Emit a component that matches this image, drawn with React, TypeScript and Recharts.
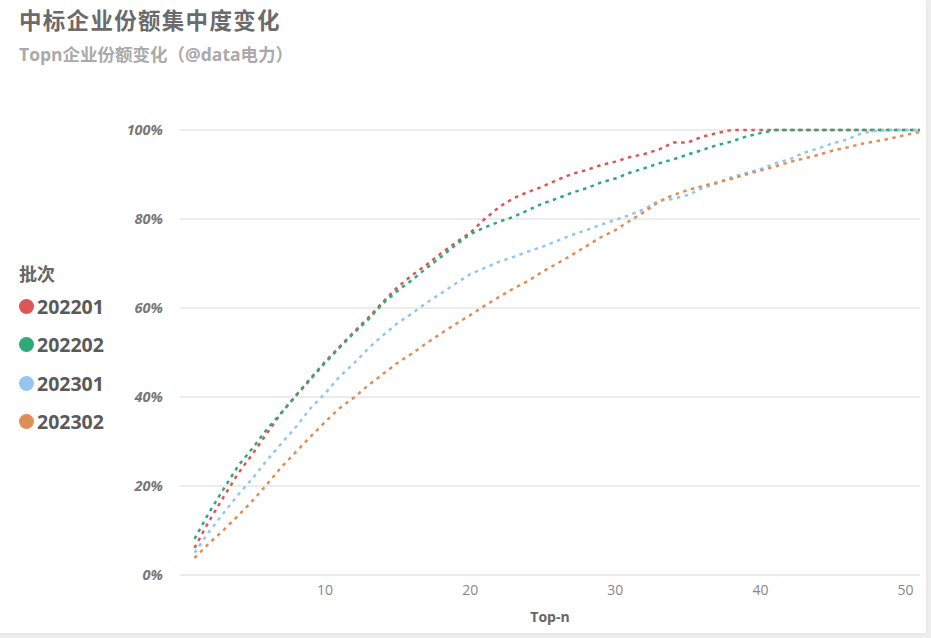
import { LineChart, Line, XAxis, YAxis, CartesianGrid, Legend } from "recharts";

const topN = [
	1, 2, 3, 4, 5, 6, 7, 8, 9, 10, 11, 12, 13, 14, 15, 16, 17, 18, 19, 20, 21, 22, 23, 24, 25, 26,
	27, 28, 29, 30, 31, 32, 33, 34, 35, 36, 37, 38, 39, 40, 41, 42, 43, 44, 45, 46, 47, 48, 49, 50, 51
];

const s202201 = [
	6.1, 12.1, 17.5, 22.8, 27.2, 31.9, 36.5, 40.4, 44.2, 47.9, 51.3, 54.7, 57.9, 61.4, 64.7, 67.4, 69.7,
	72.3, 74.7, 76.9, 80.0, 82.7, 84.7, 86.1, 87.3, 88.8, 90.1, 91.0, 92.1, 92.9, 93.9, 94.6, 95.6, 97.2,
	97.2, 98.5, 99.3, 100, 100, 100, 100, 100, 100, 100, 100, 100, 100, 100, 100, 100, 100
];
const s202202 = [
	8.1, 14.0, 19.3, 24.5, 28.5, 32.8, 36.5, 40.3, 44.0, 47.7, 51.1, 54.4, 57.5, 61.1, 63.9, 66.3, 69.0,
	71.5, 74.2, 76.6, 78.1, 79.4, 80.5, 82.0, 83.5, 84.6, 85.9, 86.9, 88.2, 89.1, 90.4, 91.4, 92.5, 93.4,
	94.5, 95.5, 96.6, 97.4, 98.5, 99.3, 100, 100, 100, 100, 100, 100, 100, 100, 100, 100, 100
];
const s202301 = [
	5.0, 9.7, 13.9, 18.0, 21.7, 25.8, 29.6, 33.3, 37.5, 40.8, 44.6, 47.6, 51.0, 53.9, 56.6, 58.8, 61.2,
	63.3, 65.5, 67.6, 69.0, 70.4, 71.5, 72.7, 73.8, 75.1, 76.4, 77.5, 78.7, 79.8, 80.9, 82.2, 84.1, 84.5,
	85.4, 86.9, 88.0, 89.4, 90.3, 91.2, 92.5, 93.4, 94.9, 95.9, 97.0, 97.9, 99.3, 99.8, 100, 100, 100
];
const s202302 = [
	3.8, 7.1, 10.1, 13.3, 16.7, 20.4, 24.3, 27.7, 31.1, 34.4, 37.5, 39.9, 42.7, 45.2, 47.7, 49.8, 52.1,
	54.3, 56.4, 58.4, 60.5, 62.5, 64.4, 66.1, 68.2, 70.0, 71.9, 73.9, 75.9, 77.5, 79.6, 81.6, 83.9, 85.4,
	86.5, 87.4, 88.2, 89.0, 90.0, 90.9, 91.8, 92.8, 93.6, 94.4, 95.4, 96.1, 96.9, 97.5, 98.1, 98.9, 99.6
];

const batches = ["202201", "202202", "202301", "202302"];
const colors = ["#dd5555", "#2eaa7a", "#94c7ef", "#e08e58"];
const xTicks = [10, 20, 30, 40, 50];
const yTicks = [0, 20, 40, 60, 80, 100];

const data = topN.map((n, i) => ({
	n,
	"202201": s202201[i],
	"202202": s202202[i],
	"202301": s202301[i],
	"202302": s202302[i]
}));

const FONT = '"Open Sans", "Noto Sans CJK SC", sans-serif';

function LegendBox() {
	return (
		<div style={{ fontFamily: FONT, fontWeight: 700, color: "#666" }}>
			<div style={{ fontSize: 18, lineHeight: "22px", marginBottom: 2 }}>批次</div>
			{batches.map((b, i) => (
				<div key={b} style={{ display: "flex", alignItems: "center", height: 38.5 }}>
					<span
						style={{
							width: 15,
							height: 15,
							borderRadius: "50%",
							background: colors[i],
							display: "inline-block",
							marginRight: 3
						}}
					/>
					<span style={{ fontSize: 19.5, color: "#5a5a5a" }}>{b}</span>
				</div>
			))}
		</div>
	);
}

export default function App() {
	return (
		<div style={{ position: "fixed", left: 0, top: 0, width: 931, height: 638, background: "#eeeeee" }}>
			<div
				style={{
					position: "absolute",
					left: 0,
					top: 0,
					width: 926,
					height: 633,
					background: "#fff",
					boxShadow: "0 0 3px rgba(0,0,0,0.08)",
					fontFamily: FONT
				}}
			>
				<div
					style={{
						position: "absolute",
						left: 19,
						top: 8,
						fontSize: 22.5,
						fontWeight: 700,
						color: "#6b6b6b",
						letterSpacing: 1.3,
						lineHeight: "26px"
					}}
				>
					中标企业份额集中度变化
				</div>
				<div
					style={{
						position: "absolute",
						left: 19,
						top: 44,
						fontSize: 17.5,
						fontWeight: 700,
						color: "#aaaaaa",
						lineHeight: "20px"
					}}
				>
					Topn企业份额变化（@data电力）
				</div>
				<LineChart
					width={926}
					height={633}
					data={data}
					margin={{ top: 130, right: 6, bottom: 0, left: 0 }}
					style={{ position: "absolute", left: 0, top: 0 }}
				>
					<CartesianGrid vertical={false} stroke="#e6e6e6" strokeWidth={1.5} />
					<XAxis
						dataKey="n"
						type="number"
						domain={[0, 51]}
						ticks={xTicks}
						axisLine={false}
						tickLine={false}
						tick={{ fill: "#888", fontSize: 14, fontFamily: FONT }}
						tickMargin={4}
						height={58}
						label={{
							value: "Top-n",
							position: "insideBottom",
							offset: 11,
							fill: "#666",
							fontSize: 14,
							fontWeight: 700,
							fontFamily: FONT
						}}
					/>
					<YAxis
						type="number"
						domain={[0, 100]}
						ticks={yTicks}
						width={180}
						axisLine={false}
						tickLine={false}
						tickFormatter={(v) => `${v}%`}
						tick={{ fill: "#777", fontSize: 14.5, fontWeight: 700, fontStyle: "italic", fontFamily: FONT }}
						tickMargin={11}
					/>
					<Legend
						layout="vertical"
						align="center"
						verticalAlign="middle"
						content={<LegendBox />}
						wrapperStyle={{ left: 19, top: 263, width: 120 }}
					/>
					{batches.map((b, i) => (
						<Line
							key={b}
							type="linear"
							dataKey={b}
							stroke={colors[i]}
							strokeWidth={2.5}
							strokeDasharray="3.5 4.5"
							dot={false}
							activeDot={false}
							isAnimationActive={false}
						/>
					))}
				</LineChart>
			</div>
		</div>
	);
}
